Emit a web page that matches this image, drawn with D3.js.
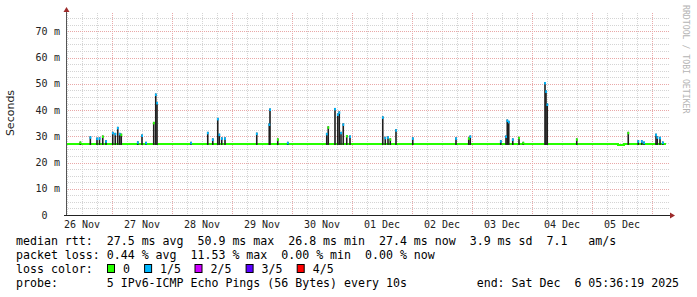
<!DOCTYPE html>
<html>
<head>
<meta charset="utf-8">
<script src="https://cdn.jsdelivr.net/npm/d3@7"></script>
<style>
  body { margin: 0; background: #fff; }
  text { white-space: pre; }
</style>
</head>
<body>
<div id="chart"></div>
<script>
// --- data ---
const startTime = "2025-11-26T05:36";
const endTime = "2025-12-06T05:36";

// median rtt (ms) baseline, as steps
const medianTimes = ["2025-11-26T05:36", "2025-12-05T10:24", "2025-12-05T12:48", "2025-12-06T05:36"];
const medianValues = [27.1, 26.8, 27.1, 27.1];

// spikes: time, max rtt in smoke (ms), loss (in fifths)
const spikeTimes = [
  "2025-11-26T11:20", "2025-11-26T15:20", "2025-11-26T18:00", "2025-11-26T19:00", "2025-11-26T20:18",
  "2025-11-26T21:36", "2025-11-27T00:18", "2025-11-27T01:18", "2025-11-27T02:18", "2025-11-27T03:06",
  "2025-11-27T03:42", "2025-11-27T10:18", "2025-11-27T12:00", "2025-11-27T13:36", "2025-11-27T16:42",
  "2025-11-27T17:30", "2025-11-27T18:00", "2025-11-28T07:36", "2025-11-28T14:18", "2025-11-28T16:18",
  "2025-11-28T18:18", "2025-11-28T18:54", "2025-11-28T19:54", "2025-11-28T21:12", "2025-11-29T09:54",
  "2025-11-29T14:54", "2025-11-29T15:12", "2025-11-29T18:18", "2025-11-29T22:18", "2025-11-30T13:54",
  "2025-11-30T14:30", "2025-11-30T17:12", "2025-11-30T18:18", "2025-11-30T18:54", "2025-11-30T19:36",
  "2025-11-30T20:30", "2025-11-30T21:54", "2025-11-30T23:12", "2025-12-01T12:18", "2025-12-01T13:18",
  "2025-12-01T14:24", "2025-12-01T15:18", "2025-12-01T17:36", "2025-12-02T00:18", "2025-12-02T17:36",
  "2025-12-02T22:42", "2025-12-02T23:18", "2025-12-03T11:30", "2025-12-03T13:36", "2025-12-03T14:06",
  "2025-12-03T14:42", "2025-12-03T16:18", "2025-12-03T18:48", "2025-12-03T20:30", "2025-12-04T05:12",
  "2025-12-04T05:36", "2025-12-04T06:06", "2025-12-04T17:54", "2025-12-05T14:30", "2025-12-05T18:30",
  "2025-12-05T19:54", "2025-12-05T20:48", "2025-12-06T01:36", "2025-12-06T02:06", "2025-12-06T03:12",
  "2025-12-06T04:18"
];
const spikeMax = [
  28.0, 30.0, 29.5, 29.6, 30.3,
  28.5, 31.7, 31.3, 33.6, 31.3,
  31.0, 28.1, 30.7, 27.9, 35.5,
  46.3, 43.1, 27.9, 31.7, 29.2,
  37.0, 31.0, 29.6, 29.6, 31.4,
  34.9, 40.6, 29.2, 27.9, 31.3,
  33.8, 40.8, 38.7, 39.5, 31.7,
  34.9, 30.5, 30.3, 37.6, 29.8,
  30.0, 29.2, 32.7, 29.6, 29.6,
  29.6, 30.3, 28.5, 30.3, 36.4,
  35.9, 29.2, 29.8, 27.9, 50.7,
  47.5, 42.5, 29.2, 31.7, 28.5,
  28.5, 28.0, 31.0, 30.0, 29.8,
  28.0
];
const spikeLoss = [
  0, 1, 1, 1, 0,
  1, 1, 1, 1, 1,
  0, 1, 1, 1, 0,
  1, 1, 1, 1, 1,
  1, 1, 1, 1, 1,
  1, 1, 0, 1, 1,
  0, 1, 1, 1, 1,
  1, 0, 1, 1, 1,
  1, 0, 1, 1, 1,
  0, 1, 1, 1, 1,
  1, 1, 0, 0, 1,
  1, 1, 0, 0, 1,
  1, 1, 1, 1, 1,
  1
];

const yTicks = [0, 10, 20, 30, 40, 50, 60, 70];
const lossLabels = ["0", "1/5", "2/5", "3/5", "4/5"];
const lossColors = ["#26ff00", "#00b8ff", "#ce00ff", "#5a00ff", "#ff0000"];

const statLines = [
  "median rtt:  27.5 ms avg  50.9 ms max  26.8 ms min  27.4 ms now  3.9 ms sd  7.1   am/s",
  "packet loss: 0.44 % avg  11.53 % max  0.00 % min  0.00 % now",
  "loss color:",
  "probe:       5 IPv6-ICMP Echo Pings (56 Bytes) every 10s          end: Sat Dec  6 05:36:19 2025"
];

// --- layout ---
const width = 697, height = 297;
const plot = {left: 66, right: 666, top: 13, bottom: 215};
const mono = "'DejaVu Sans Mono', monospace";
const charW = 7.0;

const parse = d3.timeParse("%Y-%m-%dT%H:%M");

const x = d3.scaleTime()
    .domain([parse(startTime), parse(endTime)])
    .range([plot.left, plot.right]);

const y = d3.scaleLinear()
    .domain([0, 77])
    .range([plot.bottom, plot.top]);

const svg = d3.select("#chart").append("svg")
    .attr("width", width)
    .attr("height", height)
    .style("font-family", mono);

// grid
const grid = svg.append("g").attr("shape-rendering", "crispEdges");

const minorY = d3.range(2.5, 77, 2.5).filter(v => v % 10 !== 0);
grid.selectAll(".hminor")
    .data(minorY)
    .enter()
    .append("line")
    .attr("x1", plot.left).attr("x2", plot.right + 3)
    .attr("y1", d => Math.round(y(d)) + 0.5).attr("y2", d => Math.round(y(d)) + 0.5)
    .attr("stroke", "#d4d4d4").attr("stroke-dasharray", "1,1");

const minorX = d3.timeHour.every(6).range(x.domain()[0], x.domain()[1])
    .filter(d => d.getHours() !== 0);
grid.selectAll(".vminor")
    .data(minorX)
    .enter()
    .append("line")
    .attr("x1", d => Math.round(x(d)) + 0.5).attr("x2", d => Math.round(x(d)) + 0.5)
    .attr("y1", plot.top).attr("y2", plot.bottom)
    .attr("stroke", "#d4d4d4").attr("stroke-dasharray", "1,1");

grid.selectAll(".hmajor")
    .data(yTicks.filter(v => v > 0))
    .enter()
    .append("line")
    .attr("x1", plot.left).attr("x2", plot.right + 3)
    .attr("y1", d => Math.round(y(d)) + 0.5).attr("y2", d => Math.round(y(d)) + 0.5)
    .attr("stroke", "#e9a8a8").attr("stroke-dasharray", "1,1");

const days = d3.timeDay.range(x.domain()[0], x.domain()[1]);
grid.selectAll(".vmajor")
    .data(days)
    .enter()
    .append("line")
    .attr("x1", d => Math.round(x(d)) + 0.5).attr("x2", d => Math.round(x(d)) + 0.5)
    .attr("y1", plot.top).attr("y2", plot.bottom)
    .attr("stroke", "#e9a8a8").attr("stroke-dasharray", "1,1");

// median line (loss 0 colour)
const medianPts = medianTimes.map((t, i) => [parse(t), medianValues[i]]);
svg.append("path")
    .datum(medianPts)
    .attr("fill", "none")
    .attr("stroke", lossColors[0])
    .attr("stroke-width", 2)
    .attr("shape-rendering", "crispEdges")
    .attr("d", d3.line().x(d => x(d[0])).y(d => y(d[1])).curve(d3.curveStepAfter));

// smoke spikes
const spikes = spikeTimes.map((t, i) => ({t: parse(t), max: spikeMax[i], loss: spikeLoss[i]}));
const base = medianValues[0];

svg.append("g").selectAll("rect")
    .data(spikes)
    .enter()
    .append("rect")
    .attr("x", d => x(d.t) - 0.8)
    .attr("width", 1.6)
    .attr("y", d => y(d.max))
    .attr("height", d => y(base) - y(d.max) + 1)
    .attr("fill", "#1f1f1f");

svg.append("g").selectAll("rect")
    .data(spikes)
    .enter()
    .append("rect")
    .attr("x", d => x(d.t) - 0.8)
    .attr("width", 1.8)
    .attr("y", d => y(d.max))
    .attr("height", 2.5)
    .attr("fill", d => lossColors[d.loss]);

// axes
svg.append("line")
    .attr("x1", plot.left + 0.5).attr("x2", plot.left + 0.5)
    .attr("y1", plot.top - 2).attr("y2", plot.bottom + 1)
    .attr("stroke", "#555");
svg.append("line")
    .attr("x1", plot.left - 2).attr("x2", plot.right + 4)
    .attr("y1", plot.bottom + 0.5).attr("y2", plot.bottom + 0.5)
    .attr("stroke", "#222");

svg.append("path")
    .attr("d", `M${plot.left + 0.5 - 3},${plot.top - 1} L${plot.left + 0.5 + 3},${plot.top - 1} L${plot.left + 0.5},${plot.top - 6} Z`)
    .attr("fill", "#9c2a2a");
svg.append("path")
    .attr("d", `M${plot.right + 4},${plot.bottom + 0.5 - 3} L${plot.right + 4},${plot.bottom + 0.5 + 3} L${plot.right + 9},${plot.bottom + 0.5} Z`)
    .attr("fill", "#9c2a2a");

// y tick labels
const yLab = svg.append("g").attr("font-size", "10px").attr("fill", "#222");
yLab.selectAll(".num")
    .data(yTicks)
    .enter()
    .append("text")
    .attr("x", 47.5)
    .attr("y", d => y(d) + 3.5)
    .attr("text-anchor", "end")
    .text(d => d);
yLab.selectAll(".unit")
    .data(yTicks.filter(v => v > 0))
    .enter()
    .append("text")
    .attr("x", 54)
    .attr("y", d => y(d) + 3.5)
    .text("m");

// x tick labels at noon
const noons = days.map(d => d3.timeHour.offset(d, 12));
noons.unshift(d3.timeHour.offset(d3.timeDay.floor(x.domain()[0]), 12));
svg.append("g").selectAll("text")
    .data(noons.filter(d => x(d) >= plot.left && x(d) <= plot.right))
    .enter()
    .append("text")
    .attr("x", d => x(d))
    .attr("y", 228)
    .attr("text-anchor", "middle")
    .attr("font-size", "10px")
    .attr("fill", "#222")
    .text(d3.timeFormat("%d %b"));

// y axis title
svg.append("text")
    .attr("transform", "translate(14,113) rotate(-90)")
    .attr("text-anchor", "middle")
    .attr("font-family", "'DejaVu Sans', sans-serif")
    .attr("font-size", "11px")
    .attr("fill", "#222")
    .text("Seconds");

// watermark
svg.append("text")
    .attr("transform", "translate(683,5) rotate(90)")
    .attr("font-size", "8.2px")
    .attr("fill", "#b4b4b4")
    .text("RRDTOOL / TOBI OETIKER");

// stats lines
svg.append("g").selectAll("text")
    .data(statLines)
    .enter()
    .append("text")
    .attr("x", 16)
    .attr("y", (d, i) => 245 + i * 14)
    .attr("font-size", "11.6px")
    .attr("fill", "#000")
    .text(d => d);

// loss colour legend
const legendCols = [13, 18.3, 25.5, 32.8, 40.1];
const legend = svg.append("g").selectAll("g")
    .data(lossLabels)
    .enter()
    .append("g")
    .attr("transform", (d, i) => `translate(${16 + legendCols[i] * charW},0)`);
legend.append("rect")
    .attr("x", 0.5).attr("y", 264.5)
    .attr("width", 7).attr("height", 8)
    .attr("fill", (d, i) => lossColors[i])
    .attr("stroke", "#000");
legend.append("text")
    .attr("x", 16)
    .attr("y", 273)
    .attr("font-size", "11.6px")
    .attr("fill", "#000")
    .text(d => d);
</script>
</body>
</html>
